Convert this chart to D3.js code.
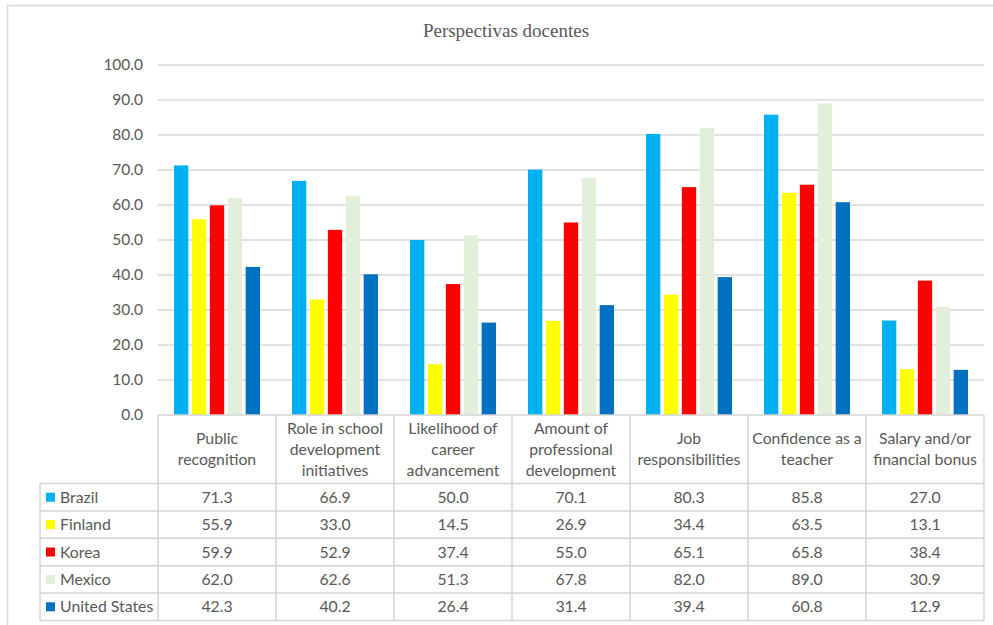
<!DOCTYPE html>
<html>
<head>
<meta charset="utf-8">
<script src="https://cdn.jsdelivr.net/npm/d3@7"></script>
<style>
  body { margin: 0; background: #fff; }
  svg { display: block; }
  text { font-family: Lato, "Open Sans", sans-serif; fill: #595959; }
</style>
</head>
<body>
<svg id="chart" width="993" height="625"></svg>
<script>
// Categories (each entry is the list of wrapped header lines)
const categories = [
  ["Public", "recognition"],
  ["Role in school", "development", "initiatives"],
  ["Likelihood of", "career", "advancement"],
  ["Amount of", "professional", "development"],
  ["Job", "responsibilities"],
  ["Confidence as a", "teacher"],
  ["Salary and/or", "financial bonus"]
];
const seriesNames = ["Brazil", "Finland", "Korea", "Mexico", "United States"];
const brazil   = [71.3, 66.9, 50.0, 70.1, 80.3, 85.8, 27.0];
const finland  = [55.9, 33.0, 14.5, 26.9, 34.4, 63.5, 13.1];
const korea    = [59.9, 52.9, 37.4, 55.0, 65.1, 65.8, 38.4];
const mexico   = [62.0, 62.6, 51.3, 67.8, 82.0, 89.0, 30.9];
const unitedStates = [42.3, 40.2, 26.4, 31.4, 39.4, 60.8, 12.9];
const yTicks = [0, 10, 20, 30, 40, 50, 60, 70, 80, 90, 100];
const colors = ["#00B0F0", "#FFFF00", "#FF0000", "#E2EFDA", "#0070C0"];
const title = "Perspectivas docentes";

const seriesValues = [brazil, finland, korea, mexico, unitedStates];

const svg = d3.select("#chart");
const gridColor = "#d9d9d9";
const lineColor = "#d4d4d4";
const textSize = "15.8px";

// chart frame
svg.append("rect")
  .attr("x", 7.5).attr("y", 5.5)
  .attr("width", 1000).attr("height", 700)
  .attr("fill", "none").attr("stroke", "#d9d9d9").attr("stroke-width", 1.5);

const plotLeft = 158, plotRight = 984;
const plotTop = 65, plotBottom = 415;

const x0 = d3.scaleBand()
  .domain(d3.range(categories.length))
  .range([plotLeft, plotRight])
  .paddingInner(0).paddingOuter(0);

const groupPad = 16;
const x1 = d3.scaleBand()
  .domain(d3.range(seriesNames.length))
  .range([groupPad, x0.bandwidth() - groupPad])
  .paddingInner(0.2).paddingOuter(0);

const y = d3.scaleLinear().domain([0, 100]).range([plotBottom, plotTop]);

// title
svg.append("text")
  .attr("x", 506).attr("y", 37)
  .attr("text-anchor", "middle")
  .style("font-family", "'Liberation Serif', 'Times New Roman', serif")
  .style("font-size", "19px")
  .text(title);

// gridlines
svg.append("g")
  .selectAll("line")
  .data(yTicks.filter(d => d > 0))
  .join("line")
  .attr("x1", plotLeft).attr("x2", plotRight)
  .attr("y1", d => y(d)).attr("y2", d => y(d))
  .attr("stroke", gridColor).attr("stroke-width", 1.5);

// y axis labels
const yAxis = d3.axisLeft(y).tickValues(yTicks).tickFormat(d3.format(".1f")).tickSize(0).tickPadding(15);
const yg = svg.append("g").attr("transform", `translate(${plotLeft},0)`).call(yAxis);
yg.select(".domain").remove();
yg.selectAll("text")
  .style("font-family", "Lato, sans-serif")
  .style("font-size", "15.5px")
  .attr("fill", "#595959");

// bars
const groups = svg.append("g")
  .selectAll("g")
  .data(categories.map((c, i) => i))
  .join("g")
  .attr("transform", i => `translate(${x0(i)},0)`);

groups.selectAll("rect")
  .data(i => seriesValues.map((vals, s) => ({ s, v: vals[i] })))
  .join("rect")
  .attr("x", d => x1(d.s))
  .attr("width", x1.bandwidth())
  .attr("y", d => y(d.v))
  .attr("height", d => y(0) - y(d.v))
  .attr("fill", d => colors[d.s]);

// data table
const headerTop = plotBottom, headerBottom = 483.5;
const rowH = 27.4;
const tableBottom = headerBottom + rowH * seriesNames.length;
const legendLeft = 40;
const table = svg.append("g");

// horizontal lines
table.append("line")
  .attr("x1", plotLeft).attr("x2", plotRight)
  .attr("y1", headerTop).attr("y2", headerTop)
  .attr("stroke", lineColor).attr("stroke-width", 1.5);
for (let r = 0; r <= seriesNames.length; r++) {
  const yy = headerBottom + r * rowH;
  table.append("line")
    .attr("x1", legendLeft).attr("x2", plotRight)
    .attr("y1", yy).attr("y2", yy)
    .attr("stroke", lineColor).attr("stroke-width", 1.5);
}
// vertical lines
table.append("line")
  .attr("x1", legendLeft).attr("x2", legendLeft)
  .attr("y1", headerBottom).attr("y2", tableBottom)
  .attr("stroke", lineColor).attr("stroke-width", 1.5);
d3.range(categories.length + 1).forEach(i => {
  const xx = i < categories.length ? x0(i) : plotRight;
  table.append("line")
    .attr("x1", xx).attr("x2", xx)
    .attr("y1", headerTop).attr("y2", tableBottom)
    .attr("stroke", lineColor).attr("stroke-width", 1.5);
});

// header labels
const lineH = 21;
categories.forEach((lines, i) => {
  const cx = x0(i) + x0.bandwidth() / 2;
  const midY = (headerTop + headerBottom) / 2;
  const t = table.append("text")
    .attr("text-anchor", "middle")
    .style("font-size", textSize);
  lines.forEach((ln, k) => {
    t.append("tspan")
      .attr("x", cx)
      .attr("y", midY + (k - (lines.length - 1) / 2) * lineH)
      .attr("dy", "0.35em")
      .text(ln);
  });
});

// rows: legend key + values
const fmt = d3.format(".1f");
seriesNames.forEach((name, s) => {
  const cy = headerBottom + s * rowH + rowH / 2;
  table.append("rect")
    .attr("x", 46).attr("y", cy - 4.5)
    .attr("width", 9).attr("height", 9)
    .attr("fill", colors[s]);
  table.append("text")
    .attr("x", 60).attr("y", cy).attr("dy", "0.35em")
    .style("font-size", textSize)
    .text(name);
  seriesValues[s].forEach((v, i) => {
    table.append("text")
      .attr("x", x0(i) + x0.bandwidth() / 2)
      .attr("y", cy).attr("dy", "0.35em")
      .attr("text-anchor", "middle")
      .style("font-size", textSize)
      .text(fmt(v));
  });
});
</script>
</body>
</html>
